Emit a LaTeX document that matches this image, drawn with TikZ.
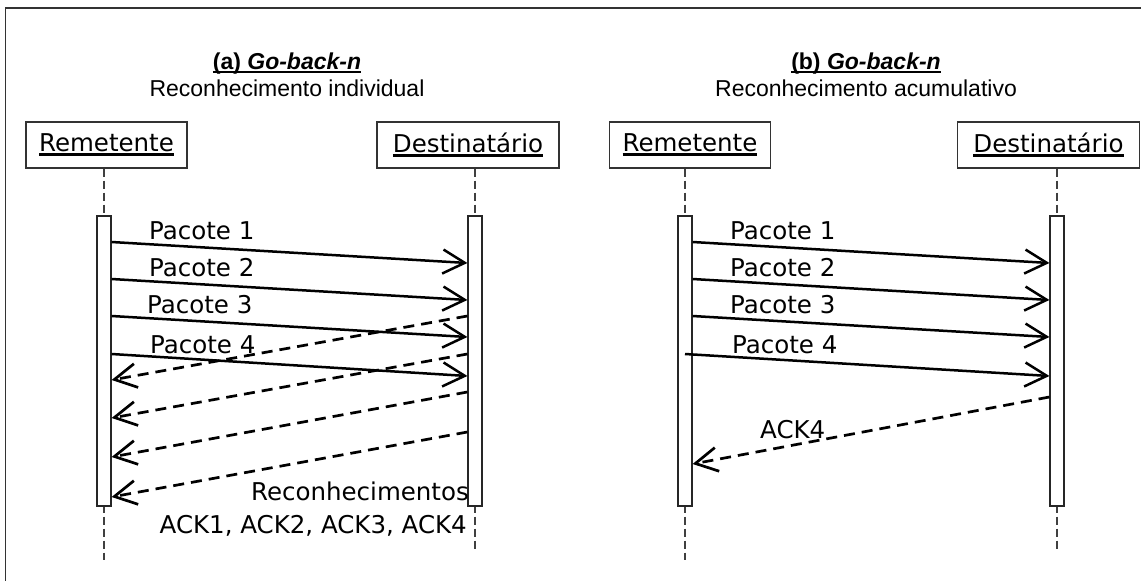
\documentclass[tikz,border=0pt]{standalone}
\usepackage{fontspec}
\newfontfamily\umlfont{DejaVu Sans}
\newfontfamily\capfont{Liberation Sans}
\usetikzlibrary{positioning, arrows.meta}

% underlined names
\newcommand{\objname}[1]{\setbox0\hbox{#1}\rlap{\rule[-4.6pt]{\wd0}{3pt}}\box0}
\newcommand{\panelname}[1]{\setbox0\hbox{#1}\rlap{\rule[-3.6pt]{\wd0}{1.7pt}}\box0}

\tikzset{
  objbox/.style={rectangle, draw=black!80, line width=1.2pt, minimum height=46pt, inner sep=0pt, font=\umlfont\fontsize{24.5}{29}\selectfont},
  actbar/.style={rectangle, draw=black!85, line width=1.2pt, fill=white, minimum width=14pt, minimum height=290pt, inner sep=0pt},
  lifeline/.style={draw=black!75, line width=1.1pt, dash pattern=on 8pt off 4pt},
  msg/.style={line width=2.5pt, -{Straight Barb[length=22pt, width=24pt]}},
  ack/.style={msg, line width=2.7pt, dash pattern=on 11pt off 7pt},
  lbl/.style={inner sep=0pt, font=\umlfont\fontsize{24.5}{29}\selectfont},
  heading/.style={inner sep=0pt, font=\capfont\fontsize{23}{28}\selectfont},
}

\begin{document}
\begin{tikzpicture}[x=1pt, y=-1pt]
  \useasboundingbox (0,0) rectangle (1141,581);
  \draw[line width=1.4pt, black!80] (5.5,581) -- (5.5,8) -- (1141,8);

  % headings
  \node[heading, anchor=base] (titlea) at (287,69) {\panelname{\bfseries (a) \textit{Go-back-n}}};
  \node[heading, anchor=base] (suba) at (287,96) {Reconhecimento individual};
  \node[heading, anchor=base] (titleb) at (866,69) {\panelname{\bfseries (b) \textit{Go-back-n}}};
  \node[heading, anchor=base] (subb) at (866,96) {Reconhecimento acumulativo};

  % objects
  \node[objbox, minimum width=161pt] (rema) at (106.5,145) {\objname{Remetente}};
  \node[objbox, minimum width=182pt] (desta) at (468,145) {\objname{Destinatário}};
  \node[objbox, minimum width=161pt] (remb) at (690,145) {\objname{Remetente}};
  \node[objbox, minimum width=182pt] (destb) at (1048.5,145) {\objname{Destinatário}};

  \coordinate (ra end) at (104,560);
  \coordinate (da end) at (475,552);
  \coordinate (rb end) at (685,560);
  \coordinate (db end) at (1057,552);

  % lifelines
  \draw[lifeline] (rema.south -| ra end) -- (ra end);
  \draw[lifeline] (desta.south -| da end) -- (da end);
  \draw[lifeline] (remb.south -| rb end) -- (rb end);
  \draw[lifeline] (destb.south -| db end) -- (db end);

  \node[actbar] (bra) at (104,361) {};
  \node[actbar] (bda) at (475,361) {};
  \node[actbar] (brb) at (685,361) {};
  \node[actbar] (bdb) at (1057,361) {};

  % (a) individual
  \draw[msg] (bra.east |- 0,242) -- (bda.west |- 0,263);
  \draw[msg] (bra.east |- 0,279) -- (bda.west |- 0,300);
  \draw[msg] (bra.east |- 0,316) -- (bda.west |- 0,337);
  \draw[msg] (bra.east |- 0,354) -- (bda.west |- 0,376);
  \draw[ack] (bda.west |- 0,316) -- (bra.east |- 0,380);
  \draw[ack] (bda.west |- 0,354) -- (bra.east |- 0,418);
  \draw[ack] (bda.west |- 0,392) -- (bra.east |- 0,457);
  \draw[ack] (bda.west |- 0,432) -- (bra.east |- 0,497);

  \node[lbl, anchor=base west] (pa1) at (149,239) {Pacote 1};
  \node[lbl, anchor=base west] (pa2) at (149,276) {Pacote 2};
  \node[lbl, anchor=base west] (pa3) at (147,313) {Pacote 3};
  \node[lbl, anchor=base west] (pa4) at (150,353) {Pacote 4};
  \node[lbl, anchor=base east] (recon) at (469,500) {Reconhecimentos};
  \node[lbl, anchor=base east] (acklist) at (467,533) {ACK1, ACK2, ACK3, ACK4};

  % (b) acumulativo
  \draw[msg] (brb.east |- 0,242) -- (bdb.west |- 0,263);
  \draw[msg] (brb.east |- 0,279) -- (bdb.west |- 0,300);
  \draw[msg] (brb.east |- 0,316) -- (bdb.west |- 0,337);
  \draw[msg] (brb.center |- 0,354) -- (bdb.west |- 0,376);
  \draw[ack] (bdb.west |- 0,397) -- (brb.east |- 0,464);

  \node[lbl, anchor=base west] (pb1) at (730,239) {Pacote 1};
  \node[lbl, anchor=base west] (pb2) at (730,276) {Pacote 2};
  \node[lbl, anchor=base west] (pb3) at (730,313) {Pacote 3};
  \node[lbl, anchor=base west] (pb4) at (732,353) {Pacote 4};
  \node[lbl, anchor=base west] (ack4) at (760,438) {ACK4};
\end{tikzpicture}
\end{document}
